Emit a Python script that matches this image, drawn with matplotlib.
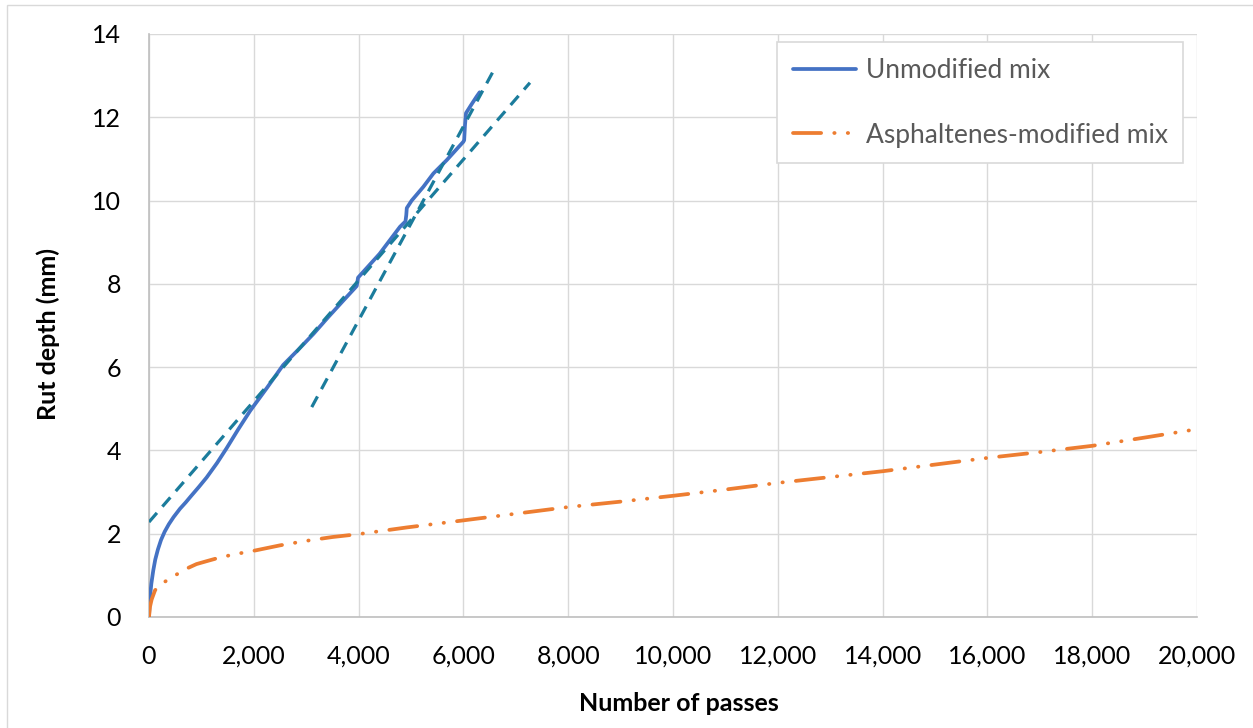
import matplotlib
matplotlib.use('Agg')
import matplotlib.pyplot as plt
from matplotlib.ticker import FuncFormatter, MultipleLocator
from matplotlib.patches import Rectangle

plt.rcParams['font.family'] = ['Lato', 'DejaVu Sans']

# unmodified mix
passes_unmod = [0, 10, 25, 45, 82, 120, 170, 230, 300, 380, 470, 592, 700, 800, 950,
                1100, 1300, 1480, 1700, 1930, 2250, 2560, 2850, 3140, 3420, 3710, 3930,
                3965, 3990, 4400, 4790, 4895, 4910, 4920, 5013, 5236, 5427, 5681, 5998,
                6015, 6030, 6050, 6150, 6254, 6310]
rut_unmod = [0, 0.3, 0.55, 0.8, 1.12, 1.38, 1.62, 1.85, 2.05, 2.23, 2.4, 2.6, 2.75, 2.9, 3.12,
             3.35, 3.7, 4.05, 4.5, 4.95, 5.5, 6.05, 6.42, 6.8, 7.2, 7.6, 7.9,
             7.95, 8.15, 8.72, 9.37, 9.5, 9.65, 9.82, 10.0, 10.33, 10.65, 10.97, 11.41,
             11.45, 11.8, 12.1, 12.3, 12.5, 12.6]

# asphaltenes-modified mix
passes_mod = [0, 20, 51, 115, 170, 242, 320, 401, 500, 592, 750, 906, 1100, 1356, 1650,
              2000, 2500, 3010, 3500, 4000, 4919, 6000, 7000, 8000, 9000, 10000, 11000,
              12000, 13000, 14000, 15000, 16000, 17000, 18000, 19060, 20000]
rut_mod = [0, 0.25, 0.42, 0.64, 0.72, 0.8, 0.86, 0.93, 1.0, 1.07, 1.18, 1.27, 1.34, 1.43, 1.51,
           1.59, 1.72, 1.83, 1.92, 1.99, 2.15, 2.32, 2.48, 2.64, 2.77, 2.91, 3.06,
           3.22, 3.36, 3.50, 3.66, 3.82, 3.96, 4.11, 4.32, 4.51]

# tangent lines (dashed)
tan1_x = [0, 7270]
tan1_y = [2.28, 12.83]
tan2_x = [3106, 6584]
tan2_y = [5.04, 13.14]

fig = plt.figure(figsize=(12.53, 7.28), dpi=100)
ax = fig.add_axes([0.1189, 0.1525, 0.8364, 0.8008])

# chart border
fig.patches.append(Rectangle((7/1253, -0.05), 1.1, 1.05 - 5/728, transform=fig.transFigure,
                             fill=False, edgecolor='#D9D9D9', lw=1.0))

ax.plot(passes_unmod, rut_unmod, color='#4472C4', lw=2.7, label='Unmodified mix',
        solid_joinstyle='round', solid_capstyle='round', zorder=3)
ax.plot(passes_mod, rut_mod, color='#ED7D31', lw=2.7, label='Asphaltenes-modified mix',
        dashes=(7.5, 3.5, 0.1, 3.5, 0.1, 3.5), dash_capstyle='round', zorder=3)
ax.plot(tan1_x, tan1_y, color='#1B7C9C', lw=2.3, dashes=(3.8, 2.6), zorder=4)
ax.plot(tan2_x, tan2_y, color='#1B7C9C', lw=2.3, dashes=(3.8, 2.6), zorder=4)

ax.set_xlim(0, 20000)
ax.set_ylim(0, 14)
ax.xaxis.set_major_locator(MultipleLocator(2000))
ax.yaxis.set_major_locator(MultipleLocator(2))
ax.xaxis.set_major_formatter(FuncFormatter(lambda v, p: '{:,.0f}'.format(v)))
ax.grid(True, color='#D9D9D9', lw=1.0)
ax.set_axisbelow(True)
for s in ['top', 'right']:
    ax.spines[s].set_visible(False)
for s in ['left', 'bottom']:
    ax.spines[s].set_color('#BFBFBF')
    ax.spines[s].set_linewidth(1.2)
ax.tick_params(axis='both', length=0, labelsize=18, colors='black')
ax.tick_params(axis='y', pad=20)
ax.tick_params(axis='x', pad=20)

ax.set_xlabel('Number of passes', fontsize=18, fontweight='bold')
ax.set_ylabel('Rut depth (mm)', fontsize=18, fontweight='bold')
ax.xaxis.set_label_coords(0.506, -0.128)
ax.yaxis.set_label_coords(-0.085, 0.485)

leg = ax.legend(loc='upper right', bbox_to_anchor=(0.987, 0.986), fontsize=19,
                handlelength=2.4, handletextpad=0.35, labelspacing=1.5,
                borderpad=0.6, borderaxespad=0, fancybox=False, framealpha=1)
leg.get_frame().set_edgecolor('#D9D9D9')
leg.get_frame().set_linewidth(1.2)
for t in leg.get_texts():
    t.set_color('#595959')

fig.savefig('out.png', dpi=100)
